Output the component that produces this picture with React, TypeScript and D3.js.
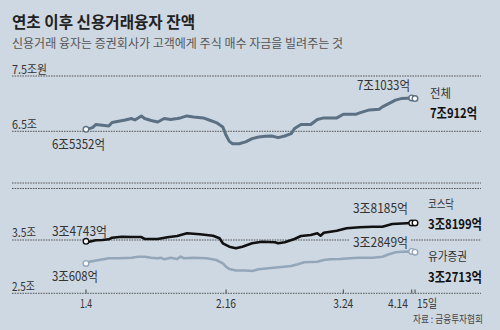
import React from 'react';
import * as d3 from 'd3';

const W = 500;
const H = 330;
const BG = '#ced8e2';
const FONT = '"Noto Sans CJK KR", "Noto Sans", sans-serif';

const title = '연초 이후 신용거래융자 잔액';
const subtitle = '신용거래 융자는 증권회사가 고객에게 주식 매수 자금을 빌려주는 것';
const source = '자료 : 금융투자협회';

// 전체 (조원)
const totalDates = ['01-04','01-06','01-07','01-09','01-11','01-12','01-14','01-16','01-18','01-19','01-21','01-22','01-24','01-26','01-28','01-30','02-01','02-02','02-04','02-06','02-09','02-11','02-13','02-15','02-16','02-17','02-18','02-20','02-22','02-24','02-26','02-28','03-02','03-04','03-06','03-08','03-09','03-11','03-14','03-16','03-18','03-22','03-24','03-28','03-29','04-01','04-04','04-05','04-09','04-11','04-14','04-15'];
const totalValues = [6.5352,6.567,6.622,6.609,6.596,6.658,6.682,6.705,6.731,6.705,6.778,6.731,6.695,6.669,6.731,6.713,6.731,6.742,6.778,6.760,6.742,6.700,6.658,6.578,6.427,6.318,6.276,6.276,6.309,6.367,6.396,6.409,6.415,6.385,6.415,6.458,6.549,6.622,6.622,6.713,6.742,6.742,6.809,6.809,6.833,6.887,6.900,6.942,7.064,7.095,7.1033,7.0912];

// 코스닥 (조원)
const kosdaqDates = ['01-04','01-05','01-07','01-09','01-11','01-12','01-15','01-18','01-21','01-22','01-26','01-29','02-01','02-04','02-08','02-12','02-14','02-15','02-17','02-19','02-21','02-24','02-27','03-03','03-04','03-06','03-09','03-11','03-14','03-16','03-17','03-18','03-22','03-25','03-29','04-02','04-05','04-08','04-11','04-14','04-15'];
const kosdaqValues = [3.4743,3.468,3.494,3.500,3.513,3.543,3.562,3.556,3.556,3.519,3.519,3.551,3.575,3.626,3.607,3.581,3.532,3.438,3.374,3.344,3.374,3.438,3.468,3.457,3.438,3.457,3.519,3.575,3.594,3.626,3.581,3.637,3.674,3.719,3.738,3.750,3.750,3.800,3.810,3.8185,3.8199];

// 유가증권 (조원)
const kospiDates = ['01-04','01-05','01-08','01-11','01-14','01-18','01-20','01-22','01-24','01-26','01-27','01-28','01-30','02-01','02-02','02-03','02-06','02-10','02-13','02-15','02-16','02-17','02-19','02-22','02-24','02-26','03-01','03-05','03-08','03-10','03-12','03-16','03-18','03-20','03-23','03-26','03-29','04-02','04-05','04-07','04-09','04-11','04-14','04-15'];
const kospiValues = [3.0608,3.093,3.125,3.157,3.157,3.168,3.187,3.187,3.168,3.157,3.168,3.138,3.168,3.144,3.187,3.157,3.168,3.157,3.125,3.063,2.999,2.956,2.928,2.928,2.918,2.950,2.969,2.993,3.012,3.044,3.082,3.093,3.125,3.138,3.144,3.157,3.168,3.168,3.187,3.232,3.269,3.280,3.2849,3.2713];

const xTickDates = ['01-04', '02-16', '03-24', '04-14', '04-15'];
const xTickLabels = ['1.4', '2.16', '3.24', '4.14', '15일'];
const topTicks = [7.5, 6.5];
const topTickLabels = ['7.5조원', '6.5조'];
const bottomTicks = [3.5, 2.5];
const bottomTickLabels = ['3.5조', '2.5조'];

const parse = (s: string) => d3.timeParse('%Y-%m-%d')('2021-' + s) as Date;

const x = d3.scaleTime().domain([parse('01-04'), parse('04-15')]).range([86, 415]);
const yTop = d3.scaleLinear().domain([6.5, 7.5]).range([131.3, 76]);
const yBot = d3.scaleLinear().domain([2.5, 3.5]).range([293.3, 240]);

const GRID_X0 = 12;
const GRID_X1 = 481;

type TProps = { x: number; y: number; s: string; size?: number; w?: number; len?: number; fill?: string; anchor?: string };
const T = ({ x, y, s, size = 12, w = 400, len, fill = '#2e2e2e', anchor = 'start' }: TProps) => (
  <text x={x} y={y} fontSize={size} fontWeight={w} fill={fill} fontFamily={FONT} textAnchor={anchor}
    textLength={len} lengthAdjust={len ? 'spacingAndGlyphs' : undefined}>{s}</text>
);

const mkLine = (dates: string[], vals: number[], ys: d3.ScaleLinear<number, number>) =>
  d3.line<number>().x((_, i) => x(parse(dates[i]))).y((v) => ys(v))(vals) || '';

const Dotted = ({ y, x0 = GRID_X0, x1 = GRID_X1 }: { y: number; x0?: number; x1?: number }) => (
  <line x1={x0} x2={x1} y1={y} y2={y} stroke="#4a4a4a" strokeWidth={0.9} strokeDasharray="1.6 1" />
);

export default function App() {
  const totalColor = '#5b7183';
  const kosdaqColor = '#111111';
  const kospiColor = '#93a7b9';

  const ends = (dates: string[], vals: number[], ys: any, color: string) => (
    <g>
      {[0, vals.length - 2, vals.length - 1].map((i) => (
        <circle key={i} cx={x(parse(dates[i]))} cy={ys(vals[i])} r={2.8} fill="#fff" stroke={color} strokeWidth={1.4} />
      ))}
    </g>
  );

  return (
    <svg width={W} height={H} style={{ position: 'absolute', left: 0, top: 0 }}>
      <rect width={W} height={H} fill={BG} />
      <T x={12} y={28} s={title} size={16} w={700} len={183} fill="#222" />
      <T x={12} y={48} s={subtitle} size={12} len={331} fill="#555" />

      {/* top panel grid */}
      {topTicks.map((t, i) => (
        <g key={t}>
          <Dotted y={yTop(t)} />
          <T x={12} y={yTop(t) - 2} s={topTickLabels[i]} size={12} len={i === 0 ? 35 : 25} fill="#333" />
        </g>
      ))}

      {/* separator */}
      <Dotted y={183} />
      <Dotted y={188.5} />

      {/* bottom panel grid */}
      <Dotted y={yBot(bottomTicks[0])} x1={350} />
      <Dotted y={yBot(bottomTicks[0])} x0={411} />
      <T x={12} y={yBot(bottomTicks[0]) - 3} s={bottomTickLabels[0]} size={12} len={24} fill="#333" />
      <Dotted y={yBot(bottomTicks[1])} />
      <T x={12} y={yBot(bottomTicks[1]) - 2.5} s={bottomTickLabels[1]} size={12} len={23} fill="#333" />

      {/* x ticks */}
      {xTickDates.map((d, i) => {
        const px = x(parse(d));
        const isLast = i === xTickDates.length - 1;
        const isPrev = i === xTickDates.length - 2;
        return (
          <g key={d}>
            <line x1={px} x2={px} y1={289.5} y2={293.3} stroke="#444" strokeWidth={1} />
            <T x={isLast ? 417 : isPrev ? 408 : px} y={308} s={xTickLabels[i]} size={12}
              anchor={isLast ? 'start' : isPrev ? 'end' : 'middle'}
              len={isLast ? 20 : xTickLabels[i].length === 3 ? 12 : 20} fill="#333" />
          </g>
        );
      })}

      {/* lines */}
      <path d={mkLine(totalDates, totalValues, yTop)} fill="none" stroke={totalColor} strokeWidth={3} strokeLinejoin="round" />
      <path d={mkLine(kospiDates, kospiValues, yBot)} fill="none" stroke={kospiColor} strokeWidth={2.6} strokeLinejoin="round" />
      <path d={mkLine(kosdaqDates, kosdaqValues, yBot)} fill="none" stroke={kosdaqColor} strokeWidth={2.6} strokeLinejoin="round" />
      {ends(totalDates, totalValues, yTop, totalColor)}
      {ends(kospiDates, kospiValues, yBot, kospiColor)}
      {ends(kosdaqDates, kosdaqValues, yBot, kosdaqColor)}

      {/* annotations */}
      <T x={52} y={149} s="6조5352억" size={13} len={53} fill="#333" />
      <T x={410} y={90} s="7조1033억" size={13} len={53} anchor="end" fill="#333" />
      <T x={430} y={98} s="전체" size={12.5} len={21} fill="#333" />
      <T x={430} y={118} s="7조912억" size={13.5} w={700} len={47} fill="#111" />

      <T x={52} y={236} s="3조4743억" size={13} len={55} fill="#333" />
      <T x={408} y={213} s="3조8185억" size={13} len={55} anchor="end" fill="#333" />
      <T x={428} y={209} s="코스닥" size={12.5} len={26} fill="#333" />
      <T x={428} y={229} s="3조8199억" size={13.5} w={700} len={54} fill="#111" />

      <T x={408} y={247} s="3조2849억" size={13} len={55} anchor="end" fill="#333" />
      <T x={428} y={261} s="유가증권" size={12.5} len={39} fill="#333" />
      <T x={428} y={281.5} s="3조2713억" size={13.5} w={700} len={54} fill="#111" />
      <T x={52} y={281} s="3조608억" size={13} len={46} fill="#333" />

      <T x={483} y={323} s={source} size={10} len={70} anchor="end" fill="#444" />
    </svg>
  );
}
